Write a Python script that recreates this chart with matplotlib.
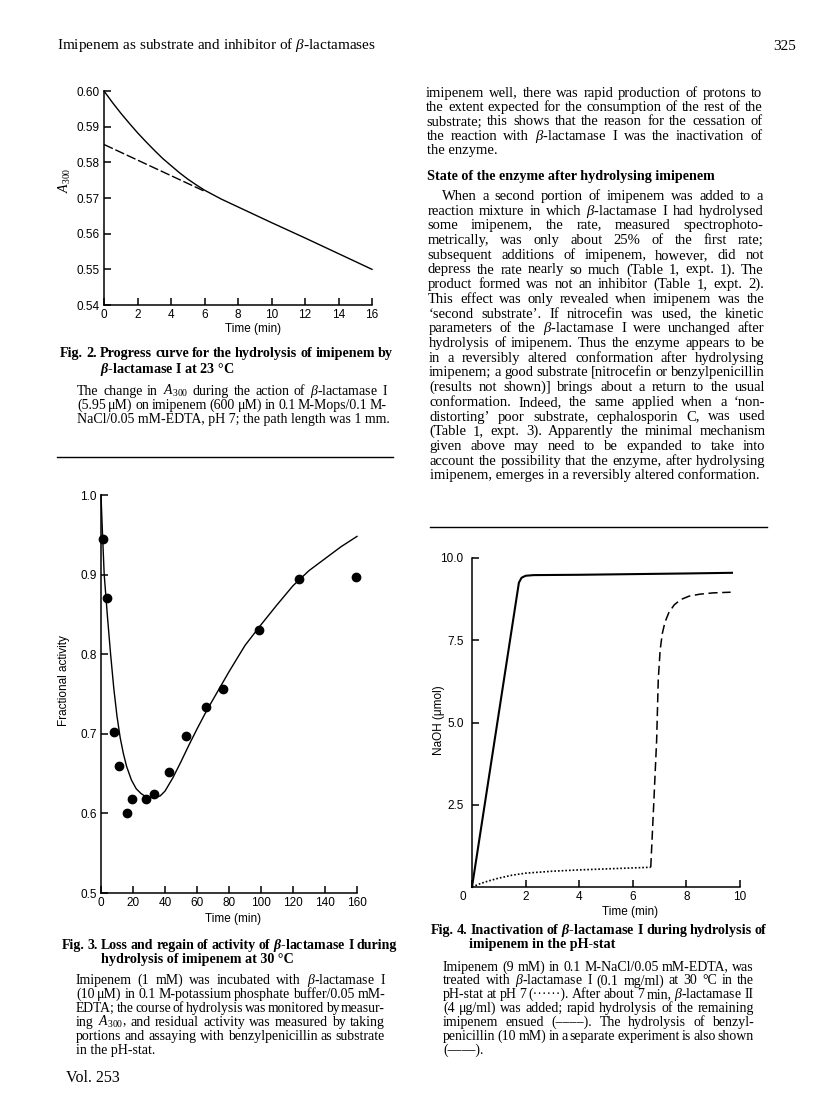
import matplotlib
matplotlib.use('Agg')
import matplotlib.pyplot as plt
from matplotlib.lines import Line2D
from matplotlib.ticker import FormatStrFormatter
from matplotlib.transforms import ScaledTranslation

# Fig. 2 - progress curve (A300 vs time)
fig2_time = [0, 0.25, 0.5, 0.75, 1, 1.5, 2, 2.5, 3, 3.5, 4, 4.5, 5, 5.5, 6, 7, 8, 10, 12, 14, 16]
fig2_a300 = [0.6000, 0.5984, 0.5968, 0.5953, 0.5938, 0.5910, 0.5883, 0.5858, 0.5834, 0.5811,
             0.5791, 0.5771, 0.5753, 0.5737, 0.5722, 0.5697, 0.5675, 0.5631, 0.5588, 0.5544, 0.5500]
fig2_tan_time = [0, 6]
fig2_tan_a300 = [0.585, 0.5719]
fig2_yticks = [0.54, 0.55, 0.56, 0.57, 0.58, 0.59, 0.60]

# Fig. 3 - fractional activity vs time
fig3_time = [1, 3.8, 8, 11, 16.4, 19.5, 28, 33.4, 42.8, 53.3, 65.9, 76.4, 99, 124, 159.6]
fig3_activity = [0.945, 0.870, 0.702, 0.659, 0.600, 0.618, 0.618, 0.625, 0.652, 0.697,
                 0.734, 0.756, 0.831, 0.895, 0.897]
fig3_fit_time = [0, 1, 2, 4, 6, 8, 10, 12, 14, 16, 19, 22, 25, 28, 31, 34, 37, 40, 45, 50,
                 55, 60, 66, 72, 80, 90, 100, 110, 120, 130, 140, 150, 160]
fig3_fit_activity = [1.0, 0.948, 0.900, 0.848, 0.800, 0.757, 0.722, 0.695, 0.675, 0.659,
                     0.642, 0.631, 0.625, 0.621, 0.620, 0.620, 0.622, 0.628, 0.645, 0.665,
                     0.686, 0.706, 0.729, 0.750, 0.778, 0.811, 0.837, 0.862, 0.886, 0.905,
                     0.920, 0.935, 0.948]

# Fig. 4 - NaOH uptake in the pH-stat
fig4_benzyl_time = [0, 1.75, 1.85, 2.0, 2.3, 4, 6, 8, 9.7]
fig4_benzyl_naoh = [0, 9.25, 9.40, 9.46, 9.48, 9.49, 9.51, 9.53, 9.55]
fig4_lact1_time = [0, 0.3, 0.6, 1.0, 1.5, 2.0, 3.0, 4.0, 5.0, 6.0, 6.67]
fig4_lact1_naoh = [0, 0.10, 0.18, 0.27, 0.36, 0.42, 0.48, 0.52, 0.55, 0.58, 0.60]
fig4_lact2_time = [6.67, 6.78, 6.89, 6.95, 7.02, 7.10, 7.20, 7.35, 7.55, 7.8, 8.1, 8.5, 9.0, 9.65]
fig4_lact2_naoh = [0.60, 2.5, 4.47, 6.3, 7.2, 7.7, 8.05, 8.35, 8.58, 8.74, 8.84, 8.9, 8.94, 8.96]

# page text
fig2_caption = [
    'The change in $A_{300}$ during the action of $\\beta$-lactamase I',
    '(5.95 μM) on imipenem (600 μM) in 0.1 M-Mops/0.1 M-',
    'NaCl/0.05 mM-EDTA, pH 7; the path length was 1 mm.',
]
fig3_caption = [
    'Imipenem (1 mM) was incubated with $\\beta$-lactamase I',
    '(10 μM) in 0.1 M-potassium phosphate buffer/0.05 mM-',
    'EDTA; the course of hydrolysis was monitored by measur-',
    'ing $A_{300}$, and residual activity was measured by taking',
    'portions and assaying with benzylpenicillin as substrate',
    'in the pH-stat.',
]
fig4_caption = [
    'Imipenem (9 mM) in 0.1 M-NaCl/0.05 mM-EDTA, was',
    'treated with $\\beta$-lactamase I (0.1 mg/ml) at 30 °C in the',
    'pH-stat at pH 7 (······). After about 7 min, $\\beta$-lactamase II',
    '(4 μg/ml) was added; rapid hydrolysis of the remaining',
    'imipenem ensued (––––). The hydrolysis of benzyl-',
    'penicillin (10 mM) in a separate experiment is also shown',
    '(——).',
]
titles = [
    'Fig. 2. Progress curve for the hydrolysis of imipenem by',
    'Fig. 3. Loss and regain of activity of $\\mathbf{\\beta}$-lactamase I during',
    'Fig. 4. Inactivation of $\\mathbf{\\beta}$-lactamase I during hydrolysis of',
]
col_top = [
    'imipenem well, there was rapid production of protons to',
    'the extent expected for the consumption of the rest of the',
    'substrate; this shows that the reason for the cessation of',
    'the reaction with $\\beta$-lactamase I was the inactivation of',
    'the enzyme.',
]
col_par = [
    'When a second portion of imipenem was added to a',
    'reaction mixture in which $\\beta$-lactamase I had hydrolysed',
    'some imipenem, the rate, measured spectrophoto-',
    'metrically, was only about 25% of the first rate;',
    'subsequent additions of imipenem, however, did not',
    'depress the rate nearly so much (Table 1, expt. 1). The',
    'product formed was not an inhibitor (Table 1, expt. 2).',
    'This effect was only revealed when imipenem was the',
    '‘second substrate’. If nitrocefin was used, the kinetic',
    'parameters of the $\\beta$-lactamase I were unchanged after',
    'hydrolysis of imipenem. Thus the enzyme appears to be',
    'in a reversibly altered conformation after hydrolysing',
    'imipenem; a good substrate [nitrocefin or benzylpenicillin',
    '(results not shown)] brings about a return to the usual',
    'conformation. Indeed, the same applied when a ‘non-',
    'distorting’ poor substrate, cephalosporin C, was used',
    '(Table 1, expt. 3). Apparently the minimal mechanism',
    'given above may need to be expanded to take into',
    'account the possibility that the enzyme, after hydrolysing',
    'imipenem, emerges in a reversibly altered conformation.',
]

plt.rcParams['font.family'] = 'Liberation Sans'
plt.rcParams['mathtext.fontset'] = 'custom'
plt.rcParams['mathtext.rm'] = 'Liberation Serif'
plt.rcParams['mathtext.it'] = 'Liberation Serif:italic'
plt.rcParams['mathtext.bf'] = 'Liberation Serif:bold:italic'

W, H = 816, 1100
fig = plt.figure(figsize=(8.16, 11), dpi=100)
renderer = fig.canvas.get_renderer()


def fx(x):
    return x / W


def fy(y):
    return 1 - y / H


def word_widths(s, size, weight):
    out = []
    for w in s.split(' '):
        t = fig.text(0, 0, w, fontsize=size, fontweight=weight, family='Liberation Serif')
        out.append(t.get_window_extent(renderer).width)
        t.remove()
    return out


def put_line(x0, x1, y, s, size, weight='normal', justify=True, min_gap=2.0):
    # y is the middle of the lowercase letters, in page pixels
    yb = y + 3.3
    if not justify:
        fig.text(fx(x0), fy(yb), s, fontsize=size, fontweight=weight, family='Liberation Serif',
                 va='baseline', ha='left')
        return
    ws = word_widths(s, size, weight)
    n = len(ws)
    if (x1 - x0 - sum(ws)) / (n - 1) < min_gap:
        # line too long for its column: shrink this line a little
        size = size * (x1 - x0 - (n - 1) * min_gap) / sum(ws)
        ws = word_widths(s, size, weight)
    gap = (x1 - x0 - sum(ws)) / (n - 1)
    x = x0
    for w, wd in zip(s.split(' '), ws):
        fig.text(fx(x), fy(yb), w, fontsize=size, fontweight=weight, family='Liberation Serif',
                 va='baseline', ha='left')
        x += wd + gap


def make_axes(left, top, right, bottom):
    ax = fig.add_axes([fx(left), fy(bottom), (right - left) / W, (bottom - top) / H])
    ax.spines[['top', 'right']].set_visible(False)
    ax.spines[['left', 'bottom']].set_linewidth(1.1)
    ax.tick_params(direction='in', length=5, width=1.1, labelsize=8.5, pad=3)
    return ax


body_size = 10.5
cap_size = 10.0
title_size = 10.2

# ---- page header ----
fig.text(fx(57), fy(49.5), 'Imipenem as substrate and inhibitor of $\\beta$-lactamases',
         family='Liberation Serif', fontsize=11, va='baseline')
fig.text(fx(796), fy(49.5), '325', family='Liberation Serif', fontsize=11, va='baseline', ha='right')

# ---- Fig. 2 ----
ax2 = make_axes(104, 91, 372, 305)
ax2.plot(fig2_time, fig2_a300, color='black', lw=1.0, clip_on=False)
ax2.plot(fig2_tan_time, fig2_tan_a300, color='black', lw=1.0, linestyle=(0, (7, 2)))
ax2.set_xlim(0, 16)
ax2.set_ylim(0.54, 0.60)
ax2.set_xticks(range(0, 17, 2))
ax2.set_yticks(fig2_yticks)
ax2.yaxis.set_major_formatter(FormatStrFormatter('%.2f'))
ax2.set_xlabel('Time (min)', fontsize=8.5)
ax2.set_ylabel('$A_{300}$', fontsize=10)
ax2.xaxis.set_label_coords(0.556, -0.112)
ax2.xaxis.label.set_va('center')
ax2.yaxis.set_label_coords(-0.146, 0.584)
ax2.yaxis.label.set_va('center')

put_line(60, 393, 354, titles[0], title_size, weight='bold', min_gap=3)
put_line(100, 0, 370, '$\\mathbf{\\beta}$-lactamase I at 23 °C', title_size, weight='bold', justify=False)
for i, s in enumerate(fig2_caption):
    put_line(77, 387, 391.7 + i * 14.2, s, cap_size, justify=(i < len(fig2_caption) - 1))

fig.add_artist(Line2D([fx(57), fx(393)], [fy(457), fy(457)], transform=fig.transFigure,
                      color='black', lw=1.0))

# ---- Fig. 3 ----
ax3 = make_axes(101, 495, 357, 893)
ax3.plot(fig3_fit_time, fig3_fit_activity, color='black', lw=1.0, clip_on=False)
ax3.plot(fig3_time, fig3_activity, 'o', color='black', ms=6, clip_on=False)
ax3.set_xlim(0, 160)
ax3.set_ylim(0.5, 1.0)
ax3.set_xticks(range(0, 161, 20))
ax3.set_yticks([0.5, 0.6, 0.7, 0.8, 0.9, 1.0])
ax3.yaxis.set_major_formatter(FormatStrFormatter('%.1f'))
ax3.set_xlabel('Time (min)', fontsize=8.5)
ax3.set_ylabel('Fractional activity', fontsize=8.5)
ax3.xaxis.set_label_coords(0.516, -0.065)
ax3.xaxis.label.set_va('center')
ax3.yaxis.set_label_coords(-0.145, 0.535)
ax3.yaxis.label.set_va('center')

put_line(62, 397, 946, titles[1], title_size, weight='bold', min_gap=3)
put_line(101, 0, 959.3, 'hydrolysis of imipenem at 30 °C', title_size, weight='bold', justify=False)
for i, s in enumerate(fig3_caption):
    put_line(76, 385, 980.7 + i * 14.06, s, cap_size, justify=(i < len(fig3_caption) - 1))
fig.text(fx(66), fy(1082), 'Vol. 253', family='Liberation Serif', fontsize=11.5, va='baseline')


# ---- right column text ----
def col_x(y):
    return 426 + (y - 93) * 4 / 382


for i, s in enumerate(col_top):
    y = 93.3 + i * 14.43
    put_line(col_x(y), col_x(y) + 336, y, s, body_size, justify=(i < len(col_top) - 1))

put_line(col_x(176.7), 0, 176.7, 'State of the enzyme after hydrolysing imipenem', body_size - 0.3,
         weight='bold', justify=False)

for i, s in enumerate(col_par):
    y = 196.7 + i * 14.7
    x0 = col_x(y) + (15 if i == 0 else 0)
    put_line(x0, col_x(y) + 336, y, s, body_size, justify=(i < len(col_par) - 1))

fig.add_artist(Line2D([fx(430), fx(767)], [fy(527), fy(527)], transform=fig.transFigure,
                      color='black', lw=1.0))

# ---- Fig. 4 ----
ax4 = make_axes(472, 558, 740, 887)
ax4.plot(fig4_benzyl_time, fig4_benzyl_naoh, color='black', lw=1.5, clip_on=False)
ax4.plot(fig4_lact1_time, fig4_lact1_naoh, color='black', lw=1.2, linestyle=(0, (1, 1.2)), clip_on=False)
ax4.plot(fig4_lact2_time, fig4_lact2_naoh, color='black', lw=1.1, linestyle=(0, (6, 3)), clip_on=False)
ax4.set_xlim(0, 10)
ax4.set_ylim(0, 10)
ax4.set_xticks(range(0, 11, 2))
ax4.set_yticks([2.5, 5.0, 7.5, 10.0])
ax4.yaxis.set_major_formatter(FormatStrFormatter('%.1f'))
ax4.tick_params(axis='y', pad=6)
lab0 = ax4.get_xticklabels()[0]
lab0.set_transform(lab0.get_transform() + ScaledTranslation(-0.09, 0, fig.dpi_scale_trans))
ax4.set_xlabel('Time (min)', fontsize=8.5)
ax4.set_ylabel('NaOH (μmol)', fontsize=8.5)
ax4.xaxis.set_label_coords(0.590, -0.075)
ax4.xaxis.label.set_va('center')
ax4.yaxis.set_label_coords(-0.123, 0.508)
ax4.yaxis.label.set_va('center')

put_line(430.7, 766.7, 931, titles[2], title_size, weight='bold', min_gap=3)
put_line(469, 0, 945, 'imipenem in the pH-stat', title_size, weight='bold', justify=False)
for i, s in enumerate(fig4_caption):
    put_line(443, 754, 967.3 + i * 13.8, s, cap_size, justify=(i < len(fig4_caption) - 1))

fig.savefig('out.png', dpi=100)
